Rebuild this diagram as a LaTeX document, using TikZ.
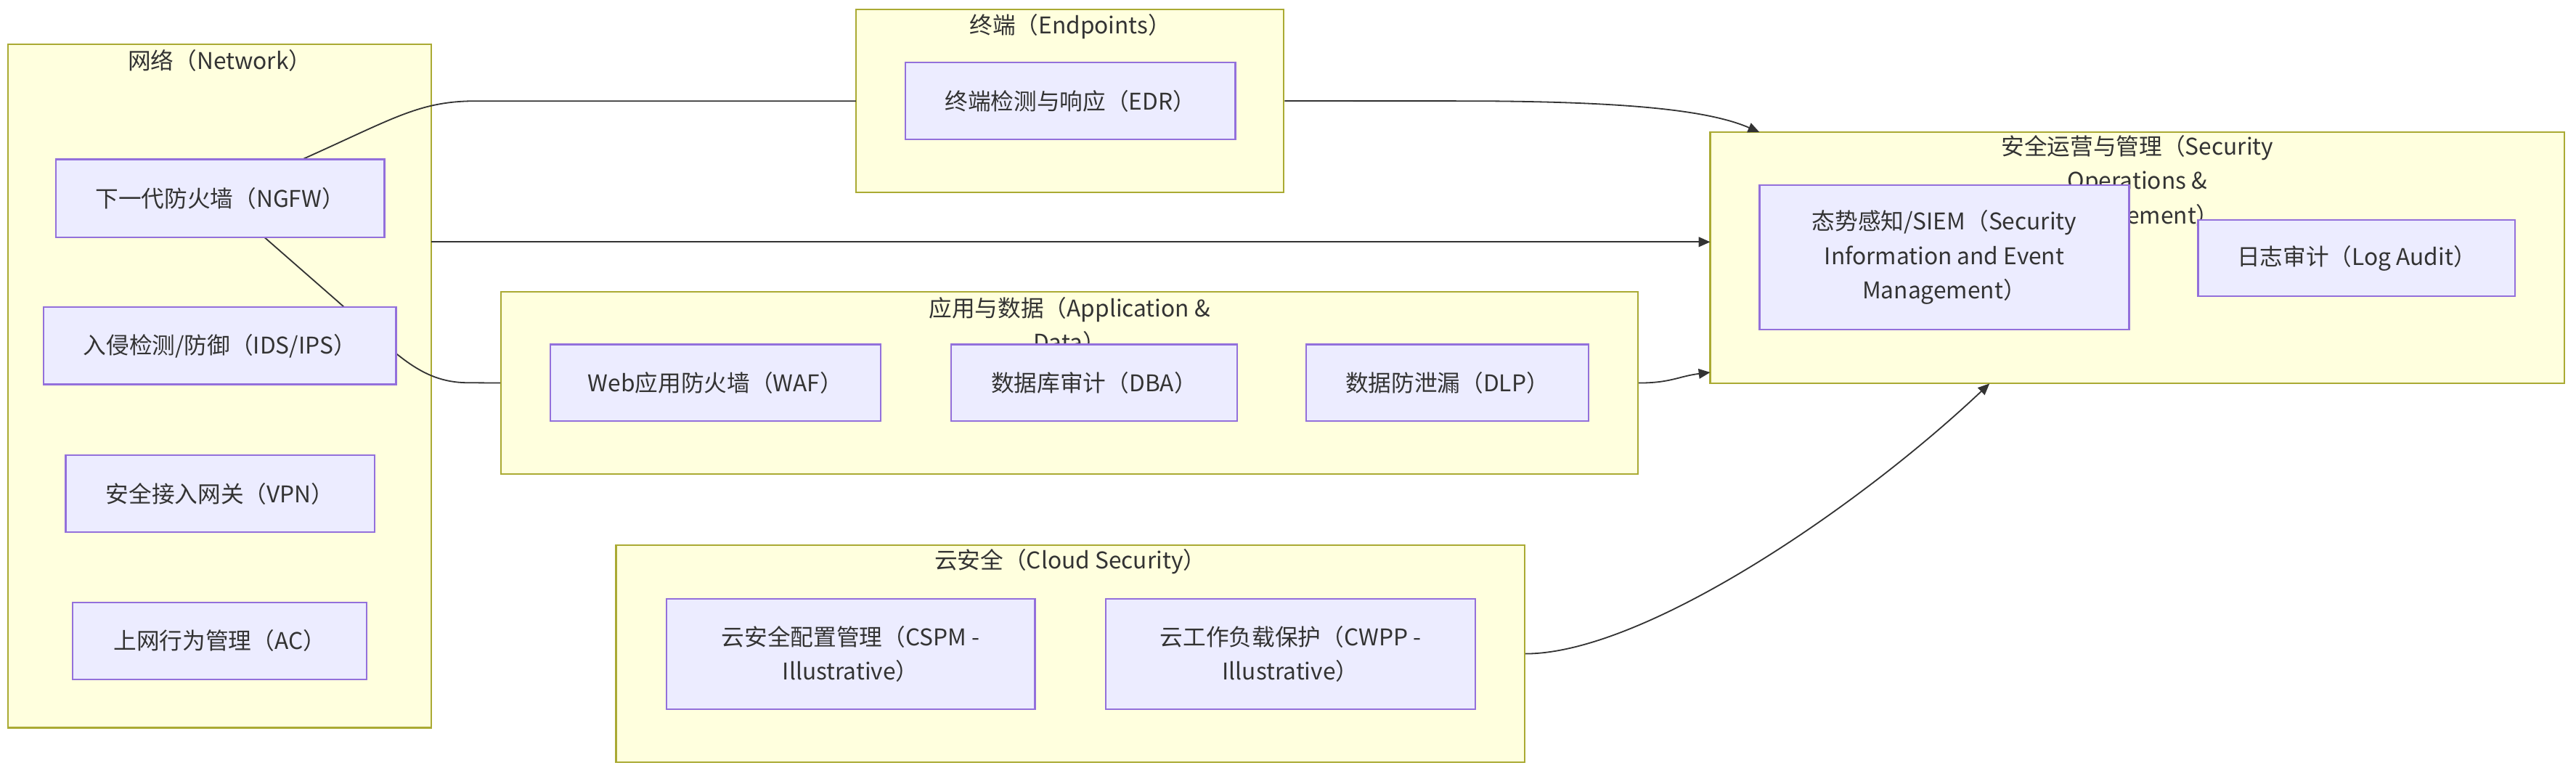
\documentclass[tikz,border=0pt]{standalone}
\usepackage{fontspec}
\setmainfont{Noto Sans CJK SC}
\usetikzlibrary{arrows.meta}
\definecolor{clfill}{HTML}{FFFFDE}
\definecolor{cldraw}{HTML}{AAAA33}
\definecolor{ndfill}{HTML}{ECECFF}
\definecolor{nddraw}{HTML}{9370DB}
\definecolor{txt}{HTML}{333333}
\definecolor{edgec}{HTML}{333333}
\begin{document}
\begin{tikzpicture}[x=1pt,y=-1pt,
  cluster/.style={draw=cldraw, fill=clfill, line width=1pt, inner sep=0pt},
  nd/.style={draw=nddraw, fill=ndfill, line width=1pt, text=txt, font=\fontsize{14}{21}\selectfont, align=center, inner sep=0pt},
  ttl/.style={text=txt, font=\fontsize{14}{21}\selectfont, align=center, inner sep=0pt},
  conn/.style={draw=edgec, line width=0.8pt},
  arr/.style={conn, -{Triangle[length=7pt,width=6pt]}}]
\useasboundingbox[fill=white] (0,0) rectangle (1568,472);

% clusters
\node[cluster, minimum width=257.6, minimum height=416] (net) at (133.8,235) {};
\node[cluster, minimum width=260.5, minimum height=111.1] (ep) at (651.25,61.45) {};
\node[cluster, minimum width=520, minimum height=153] (soc) at (1301,157) {};
\node[cluster, minimum width=692, minimum height=111.1] (app) at (651,233.15) {};
\node[cluster, minimum width=553, minimum height=132] (cloud) at (651.5,398) {};

% cluster titles
\node[ttl] (nett) at (133.8,37) {网络（Network）};
\node[ttl] (ept) at (651.5,16) {终端（Endpoints）};
\node[ttl] (soct) at (1301,111) {安全运营与管理（Security\\Operations \&\\Management）};
\node[ttl] (appt) at (651,198) {应用与数据（Application \&\\Data）};
\node[ttl] (cloudt) at (651.5,341.7) {云安全（Cloud Security）};

% named coordinates on borders
\coordinate (aS) at (184,97);
\coordinate (aE) at (521,61.5);
\coordinate (bE) at (1071,80.5);
\coordinate (cS) at (262.6,147.3);
\coordinate (cE) at (1041,147.3);
\coordinate (dS) at (161,144.5);
\coordinate (eE) at (1041,226.7);
\coordinate (fE) at (1211,233.5);

% connectors
\draw[conn] (aS) .. controls (240,72) and (255,61.5) .. (290,61.5) -- (aE);
\draw[arr] (ep.east) -- (900,61.5) .. controls (990,62) and (1040,67) .. (bE);
\draw[arr] (cS) -- (cE);
\draw[conn] (dS) -- (205,183) .. controls (240,214) and (255,233) .. (285,233) -- (app.west);
\draw[arr] (app.east) .. controls (1017,233.15) and (1022,229) .. (eE);
\draw[arr] (cloud.east) .. controls (1000,398) and (1130,310) .. (fE);

% nodes
\node[nd, minimum width=200, minimum height=47.5] (ngfw) at (134,120.75) {下一代防火墙（NGFW）};
\node[nd, minimum width=214.5, minimum height=47] (ids) at (133.8,210.5) {入侵检测/防御（IDS/IPS）};
\node[nd, minimum width=188, minimum height=47] (vpn) at (134,300.5) {安全接入网关（VPN）};
\node[nd, minimum width=179, minimum height=46.7] (ac) at (133.75,390.2) {上网行为管理（AC）};
\node[nd, minimum width=201, minimum height=47] (edr) at (651.5,61.5) {终端检测与响应（EDR）};
\node[nd, minimum width=225, minimum height=88] (siem) at (1183.5,156.75) {态势感知/SIEM（Security\\Information and Event\\Management）};
\node[nd, minimum width=193, minimum height=46.7] (log) at (1434.5,157.1) {日志审计（Log Audit）};
\node[nd, minimum width=201, minimum height=46.5] (waf) at (435.5,233) {Web应用防火墙（WAF）};
\node[nd, minimum width=174, minimum height=46.5] (dba) at (666,233) {数据库审计（DBA）};
\node[nd, minimum width=172, minimum height=46.5] (dlp) at (881,233) {数据防泄漏（DLP）};
\node[nd, minimum width=224.4, minimum height=67] (cspm) at (517.8,398.15) {云安全配置管理（CSPM -\\Illustrative）};
\node[nd, minimum width=225, minimum height=67] (cwpp) at (785.5,398.15) {云工作负载保护（CWPP -\\Illustrative）};
\end{tikzpicture}
\end{document}
